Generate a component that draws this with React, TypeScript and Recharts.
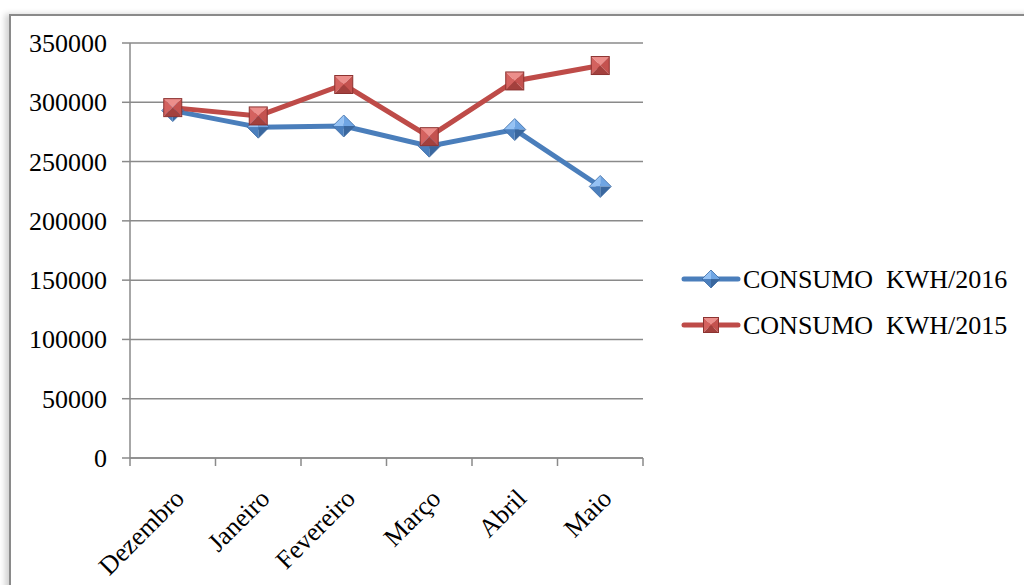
import React from 'react';
import { LineChart, Line, XAxis, YAxis, CartesianGrid } from 'recharts';

const months = ['Dezembro', 'Janeiro', 'Fevereiro', 'Março', 'Abril', 'Maio'];
const consumo2016 = [293000, 279000, 280000, 263000, 277000, 229000];
const consumo2015 = [295500, 288500, 315000, 271000, 318000, 331000];
const yTicks = [0, 50000, 100000, 150000, 200000, 250000, 300000, 350000];
const seriesNames = ['CONSUMO  KWH/2016', 'CONSUMO  KWH/2015'];

const data = months.map((m, i) => ({ month: m, c2016: consumo2016[i], c2015: consumo2015[i] }));

const W = 1024;
const H = 585;
const TOP = 43;
const AXIS_Y = 458;
const LEFT = 130;
const RIGHT_EDGE = 643;
const HALF_BAND = (RIGHT_EDGE - LEFT) / months.length / 2;
const FONT = 'Liberation Serif, Times New Roman, serif';
const GRID = '#8a8a8a';
const BLUE = '#4a7ebb';
const RED = '#be4b48';
const textStyle: React.CSSProperties = { fontFamily: FONT, fontSize: 26, fill: '#000', whiteSpace: 'pre' };

const Diamond = ({ cx, cy, r }: { cx: number; cy: number; r: number }) => (
  <g>
    <polygon points={`${cx - r},${cy} ${cx},${cy - r} ${cx},${cy}`} fill="#95c2f4" />
    <polygon points={`${cx},${cy - r} ${cx + r},${cy} ${cx},${cy}`} fill="#6fa5e3" />
    <polygon points={`${cx + r},${cy} ${cx},${cy + r} ${cx},${cy}`} fill="#3a679e" />
    <polygon points={`${cx},${cy + r} ${cx - r},${cy} ${cx},${cy}`} fill="#4b7fbd" />
    <polygon points={`${cx - r},${cy} ${cx},${cy - r} ${cx + r},${cy} ${cx},${cy + r}`} fill="none" stroke="#3a6aa5" strokeWidth={0.8} />
  </g>
);

const Square = ({ cx, cy, h }: { cx: number; cy: number; h: number }) => {
  const l = cx - h, r = cx + h, t = cy - h, b = cy + h;
  return (
    <g>
      <polygon points={`${l},${t} ${r},${t} ${cx},${cy}`} fill="#ec8e8b" />
      <polygon points={`${l},${t} ${cx},${cy} ${l},${b}`} fill="#d4625f" />
      <polygon points={`${r},${t} ${cx},${cy} ${r},${b}`} fill="#c4524f" />
      <polygon points={`${l},${b} ${cx},${cy} ${r},${b}`} fill="#a3403d" />
      <rect x={l} y={t} width={2 * h} height={2 * h} fill="none" stroke="#8c3331" strokeWidth={1} />
    </g>
  );
};

const BlueDot = (props: any) => {
  const { cx, cy, index } = props;
  if (cx == null || cy == null) return <g key={index} />;
  return <g key={index}><Diamond cx={cx} cy={cy} r={11} /></g>;
};

const RedDot = (props: any) => {
  const { cx, cy, index } = props;
  if (cx == null || cy == null) return <g key={index} />;
  return <g key={index}><Square cx={cx} cy={cy} h={9} /></g>;
};

const XTick = (props: any) => {
  const { x, payload, index } = props;
  return (
    <g>
      <line x1={x - HALF_BAND} x2={x - HALF_BAND} y1={AXIS_Y} y2={AXIS_Y + 8} stroke={GRID} strokeWidth={1.5} />
      {index === months.length - 1 && (
        <line x1={x + HALF_BAND} x2={x + HALF_BAND} y1={AXIS_Y} y2={AXIS_Y + 8} stroke={GRID} strokeWidth={1.5} />
      )}
      <text
        transform={`translate(${x + 13},${AXIS_Y + 42}) rotate(-45)`}
        textAnchor="end"
        fontFamily={FONT}
        fontSize={26}
        fill="#000"
        style={textStyle}
      >
        {payload.value}
      </text>
    </g>
  );
};

const YTick = (props: any) => {
  const { x, y, payload } = props;
  return (
    <text x={x} y={y} dy={9} textAnchor="end" fontFamily={FONT} fontSize={26} fill="#000" style={textStyle}>
      {payload.value}
    </text>
  );
};

export default function App() {
  return (
    <div style={{ position: 'absolute', left: 0, top: 0, width: W, height: H, background: '#fff', overflow: 'hidden', fontFamily: FONT }}>
      <div
        style={{
          position: 'absolute',
          left: 9,
          top: 14,
          width: W,
          height: H,
          borderTop: '2px solid #8a8a8a',
          borderLeft: '2px solid #8a8a8a',
          boxShadow: '-4px 0 6px rgba(0,0,0,0.18)',
        }}
      />
      <div style={{ position: 'absolute', left: 0, top: 0, fontFamily: FONT }}>
        <LineChart
          width={W}
          height={H}
          data={data}
          margin={{ top: TOP, right: W - RIGHT_EDGE, bottom: 0, left: 0 }}
          style={{ fontFamily: FONT }}
        >
          <CartesianGrid vertical={false} stroke={GRID} strokeWidth={1.5} />
          <XAxis
            dataKey="month"
            height={H - AXIS_Y}
            padding={{ left: HALF_BAND, right: HALF_BAND }}
            axisLine={{ stroke: GRID, strokeWidth: 1.5 }}
            tickLine={false}
            tick={<XTick />}
            interval={0}
          />
          <YAxis
            width={LEFT}
            domain={[0, 350000]}
            ticks={yTicks}
            interval={0}
            tickSize={8}
            tickMargin={15}
            axisLine={{ stroke: GRID, strokeWidth: 1.5 }}
            tickLine={{ stroke: GRID, strokeWidth: 1.5 }}
            tick={<YTick />}
          />
          <Line
            type="linear"
            dataKey="c2016"
            name={seriesNames[0]}
            stroke={BLUE}
            strokeWidth={5}
            dot={BlueDot}
            activeDot={false}
            isAnimationActive={false}
          />
          <Line
            type="linear"
            dataKey="c2015"
            name={seriesNames[1]}
            stroke={RED}
            strokeWidth={5}
            dot={RedDot}
            activeDot={false}
            isAnimationActive={false}
          />
        </LineChart>
      </div>
      <svg style={{ position: 'absolute', left: 0, top: 0 }} width={W} height={H}>
        <g>
          <line x1={684} x2={738} y1={279} y2={279} stroke={BLUE} strokeWidth={5} strokeLinecap="round" />
          <Diamond cx={711} cy={279} r={9} />
          <text x={743} y={288} fontFamily={FONT} fontSize={26} fill="#000" style={textStyle}>
            {seriesNames[0]}
          </text>
        </g>
        <g>
          <line x1={684} x2={738} y1={325} y2={325} stroke={RED} strokeWidth={5} strokeLinecap="round" />
          <Square cx={711} cy={325} h={7.5} />
          <text x={743} y={334} fontFamily={FONT} fontSize={26} fill="#000" style={textStyle}>
            {seriesNames[1]}
          </text>
        </g>
      </svg>
    </div>
  );
}
